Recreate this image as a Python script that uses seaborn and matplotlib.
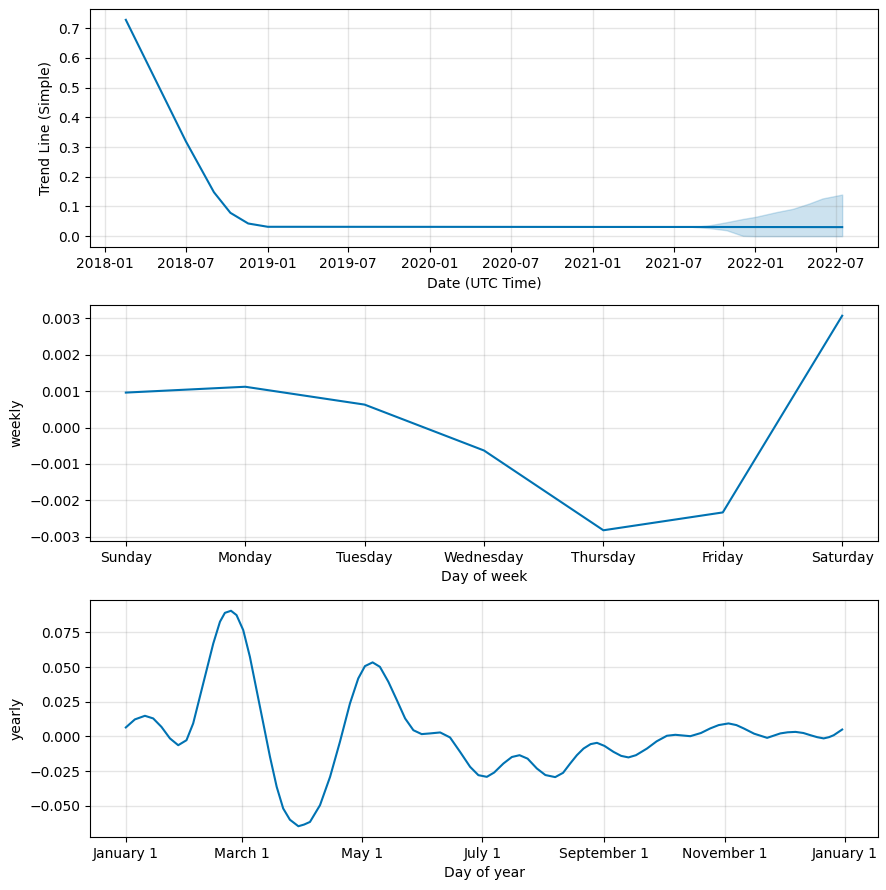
import numpy as np
import pandas as pd
import matplotlib
matplotlib.use("Agg")
import matplotlib.pyplot as plt
import matplotlib.dates as mdates
from matplotlib.ticker import FuncFormatter, MultipleLocator
import seaborn as sns

BLUE = "#0072B2"

# ---- trend component ----
trend_dates = ["2018-02-16", "2018-07-01", "2018-09-02", "2018-10-09",
               "2018-11-18", "2019-01-01", "2020-01-01", "2021-01-01",
               "2021-08-14", "2022-07-15"]
trend_vals = [0.728, 0.319, 0.148, 0.0786, 0.0427, 0.0316, 0.0314, 0.0311,
              0.031, 0.0305]

band_dates = ["2021-08-14", "2021-09-21", "2021-10-28", "2021-12-04",
              "2022-01-01", "2022-02-17", "2022-03-26", "2022-05-02",
              "2022-06-01", "2022-07-15"]
band_upper = [0.031, 0.037, 0.047, 0.058, 0.065, 0.081, 0.092, 0.110, 0.127, 0.140]
band_lower = [0.031, 0.027, 0.020, 0.001, 0.0, 0.0, 0.0, 0.0, 0.0, 0.0]

# ---- weekly component ----
week_days = ["Sunday", "Monday", "Tuesday", "Wednesday", "Thursday", "Friday", "Saturday"]
weekly_vals = [0.00096, 0.00112, 0.00063, -0.00063, -0.00282, -0.00233, 0.00307]

# ---- yearly component (day-of-year offset, value) ----
year_days = [0, 4.6, 9.7, 13.9, 18.1, 22.4, 26.6, 30.8, 34.2, 37.6, 41, 44.4,
             47.8, 50.3, 53.4, 56.2, 59.6, 63, 66.4, 69.8, 73.2, 76.6, 79.9, 83.3,
             87.6, 90.5, 93.5, 98.6, 103.7, 108.7, 113.8, 118, 121.4, 125.3, 129,
             133.3, 137.6, 141.8, 146, 150.2, 154.5, 159.6, 164.6, 169.7, 174.8,
             179, 183.3, 187, 191.7, 196, 199.9, 204, 208.7, 213, 218, 222, 225.6,
             229, 232.4, 236, 239.2, 243, 247.6, 251.5, 255.2, 259, 264.6, 269.5,
             274.7, 279, 286.6, 292, 296.7, 301, 306, 310, 313.7, 319, 325.6,
             332.3, 336, 340, 344, 347.6, 351, 354.3, 357, 359.4, 363.7]
yearly_vals = [0.0065, 0.0123, 0.0149, 0.013, 0.0069, -0.0014, -0.0063, -0.0027,
               0.0094, 0.0286, 0.0478, 0.067, 0.0827, 0.0891, 0.0906, 0.0875,
               0.0767, 0.0574, 0.0334, 0.0094, -0.0147, -0.0363, -0.0519, -0.06,
               -0.0647, -0.0635, -0.0616, -0.0495, -0.0291, -0.0039, 0.0238, 0.0418,
               0.0507, 0.0534, 0.0502, 0.0394, 0.0262, 0.013, 0.0045, 0.0017, 0.0022,
               0.0029, -0.0007, -0.0111, -0.0219, -0.0279, -0.0291, -0.026, -0.0195,
               -0.0148, -0.0135, -0.016, -0.0231, -0.0278, -0.0293, -0.0262, -0.0195,
               -0.0135, -0.0087, -0.0055, -0.0046, -0.0068, -0.0111, -0.014, -0.0151,
               -0.0135, -0.0087, -0.0035, 0.0005, 0.0012, 0.0002, 0.0025, 0.0058,
               0.0082, 0.0094, 0.0082, 0.0058, 0.002, -0.001, 0.0022, 0.003, 0.0033,
               0.0025, 0.0009, -0.0005, -0.0014, -0.0005, 0.0009, 0.005]

trend = pd.DataFrame({"ds": pd.to_datetime(trend_dates), "trend": trend_vals})
band = pd.DataFrame({"ds": pd.to_datetime(band_dates), "lo": band_lower, "hi": band_upper})
weekly = pd.DataFrame({"pos": range(len(week_days)), "weekly": weekly_vals})
yearly = pd.DataFrame({"ds": pd.Timestamp("2017-01-01") + pd.to_timedelta(year_days, unit="D"),
                       "yearly": yearly_vals})

W, H = 886, 890
fig = plt.figure(figsize=(W / 100, H / 100), dpi=100)
# panel boxes in pixels: (top, bottom)
boxes = [(9, 247), (305, 541), (600, 837)]
axes = [fig.add_axes([90 / W, 1 - b / H, (878 - 90) / W, (b - t) / H]) for t, b in boxes]

def style(ax):
    ax.grid(True, which="major", c="gray", ls="-", lw=1, alpha=0.2)

# trend
ax = axes[0]
sns.lineplot(data=trend, x="ds", y="trend", color=BLUE, ax=ax)
ax.fill_between(band["ds"], band["lo"], band["hi"], color=BLUE, alpha=0.2)
ax.xaxis.set_major_locator(mdates.MonthLocator(bymonth=(1, 7)))
ax.xaxis.set_major_formatter(mdates.DateFormatter("%Y-%m"))
ax.yaxis.set_major_locator(MultipleLocator(0.1))
ax.set_xlabel("Date (UTC Time)")
ax.set_ylabel("Trend Line (Simple)")
style(ax)

# weekly
ax = axes[1]
sns.lineplot(data=weekly, x="pos", y="weekly", color=BLUE, ax=ax)
ax.set_xticks(range(len(week_days)))
ax.set_xticklabels(week_days)
ax.set_xlabel("Day of week")
ax.set_ylabel("weekly")
style(ax)

# yearly
ax = axes[2]
sns.lineplot(data=yearly, x="ds", y="yearly", color=BLUE, ax=ax)
ax.xaxis.set_major_locator(mdates.MonthLocator(bymonthday=1, interval=2))
ax.xaxis.set_major_formatter(FuncFormatter(
    lambda x, pos=None: "{dt:%B} {dt.day}".format(dt=mdates.num2date(x))))
ax.set_xlabel("Day of year")
ax.set_ylabel("yearly")
style(ax)

fig.savefig("out.png")
